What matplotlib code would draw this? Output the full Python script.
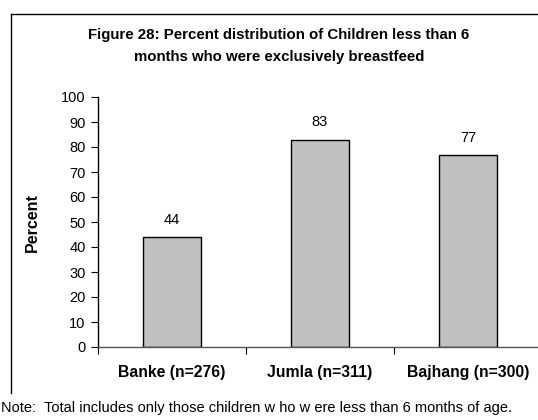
import matplotlib
matplotlib.use("Agg")
import matplotlib.pyplot as plt
from matplotlib.lines import Line2D

plt.rcParams['font.family'] = ['Liberation Sans', 'DejaVu Sans']

categories = ["Banke (n=276)", "Jumla (n=311)", "Bajhang (n=300)"]
values = [44, 83, 77]
yticks = list(range(0, 101, 10))
title = "Figure 28: Percent distribution of Children less than 6\nmonths who were exclusively breastfeed"
note = "Note:  Total includes only those children w ho w ere less than 6 months of age."

W, H = 538, 420
fig = plt.figure(figsize=(W / 100, H / 100), dpi=100)
ax = fig.add_axes([98 / W, 1 - 347 / H, 444 / W, 250 / H])

x = list(range(len(categories)))
ax.bar(x, values, width=0.39, color="#c0c0c0", edgecolor="black", linewidth=1)
for xi, v in zip(x, values):
    ax.text(xi, v + 4, f"{v}", ha="center", va="bottom", fontsize=10.5)

ax.set_xlim(-0.5, len(categories) - 0.5)
ax.set_ylim(0, 100)
ax.set_yticks(yticks)
ax.set_yticklabels([str(t) for t in yticks], fontsize=10.5)
ax.set_xticks([i - 0.5 for i in x], minor=False)
ax.set_xticklabels([])
ax.set_xticks(x, minor=True)
ax.set_xticklabels(categories, minor=True, fontsize=11.3, fontweight="bold")
ax.tick_params(axis="x", which="minor", length=0, pad=13)
ax.tick_params(axis="x", which="major", length=5, direction="out")
ax.tick_params(axis="y", length=5, direction="out", pad=4)
for s in ["top", "right"]:
    ax.spines[s].set_visible(False)
ax.spines["left"].set_linewidth(1)
ax.spines["bottom"].set_linewidth(1)
ax.spines["bottom"].set_color("#555555")

ax.set_ylabel("Percent", fontsize=11.5, fontweight="bold")
ax.yaxis.set_label_coords(40 / W, 1 - 223 / H, transform=fig.transFigure)

fig.text(279 / W, 1 - 46 / H, title, ha="center", va="center",
         fontsize=10.8, fontweight="bold", linespacing=1.65)

# outer chart frame (left and top edges)
fig.add_artist(Line2D([11 / W, 11 / W], [1 - 393 / H, 1 - 14 / H],
                      transform=fig.transFigure, color="black", linewidth=1))
fig.add_artist(Line2D([11 / W, 1.0], [1 - 14 / H, 1 - 14 / H],
                      transform=fig.transFigure, color="black", linewidth=1))

fig.text(1 / W, 1 - 408 / H, note, ha="left", va="center", fontsize=10.5)

fig.savefig("out.png", dpi=100)
